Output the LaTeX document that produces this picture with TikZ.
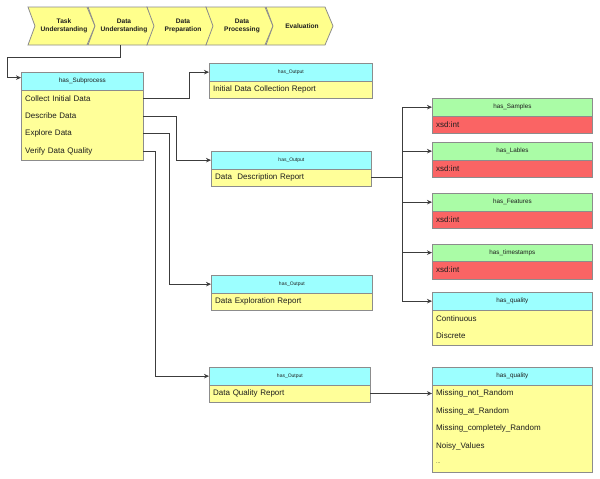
\documentclass[tikz,border=0pt]{standalone}
\usepackage{fontspec}
\setmainfont{Liberation Sans}
\usetikzlibrary{arrows.meta}
\definecolor{cyanc}{HTML}{9CFFFF}
\definecolor{yelc}{HTML}{FFFF99}
\definecolor{chevc}{HTML}{FFFF8C}
\definecolor{grnc}{HTML}{AAFCA6}
\definecolor{redc}{HTML}{FA6464}
\definecolor{bordc}{HTML}{8C8C8C}
\definecolor{linec}{HTML}{3C3C3C}
\definecolor{txtc}{HTML}{1E1E1E}
\tikzset{
  hdr/.style={draw=bordc, line width=0.8pt, minimum height=17.5pt, inner sep=0pt, anchor=north west, font=\fontsize{6.3}{7}\selectfont, text=txtc},
  smallhdr/.style={font=\fontsize{5}{6}\selectfont},
  rowb/.style={minimum height=17.5pt, inner xsep=4pt, inner ysep=0pt, align=left, anchor=north west, font=\fontsize{8}{9}\selectfont, text=txtc},
  frame/.style={draw=bordc, line width=0.8pt},
  chev/.style={draw=bordc, fill=chevc, line width=0.8pt, line join=miter},
  chevtxt/.style={minimum height=38pt, minimum width=40pt, inner sep=0pt, align=center, font=\fontsize{6.6}{7.8}\selectfont\bfseries, text=txtc},
  ln/.style={draw=linec, line width=0.8pt},
  arr/.style={ln, -{Stealth[length=5pt,width=4.5pt]}},
}
\newcommand\mkhdr[7][]{\node[hdr, fill=#7, minimum width=#5pt, #1] (#2) at (#3,#4) {#6};}
\newcommand\mkrow[6]{\pgfmathsetmacro\rtw{#4-8}\node[rowb, fill=#6, text width=\rtw pt] (#1) at (#2,#3) {#5};}
\begin{document}
\begin{tikzpicture}[x=1pt,y=-1pt]
\useasboundingbox[fill=white] (0,0) rectangle (600,479);
% chevrons
\foreach \x/\t/\n in {28/{Task\\Understanding}/c1, 88/{Data\\Understanding}/c2, 147/{Data\\Preparation}/c3, 206/{Data\\Processing}/c4, 266/{Evaluation}/c5}{
  \draw[chev] (\x,7) -- (\x+59,7) -- (\x+67,26) -- (\x+59,45) -- (\x,45) -- (\x+7,26) -- cycle;
  \node[chevtxt] (\n) at (\x+36,26) {\t};
}
% has_Subprocess
\mkhdr{subh}{21}{72}{122}{has\_Subprocess}{cyanc}
\mkrow{sr1}{21}{89.5}{122}{Collect Initial Data}{yelc}
\mkrow{sr2}{21}{107}{122}{Describe Data}{yelc}
\mkrow{sr3}{21}{124.5}{122}{Explore Data}{yelc}
\mkrow{sr4}{21}{142}{122}{Verify Data Quality}{yelc}
\draw[frame] (subh.south west) rectangle (sr4.south east);
% outputs
\mkhdr[smallhdr]{o1h}{209}{63}{163}{has\_Output}{cyanc}
\mkrow{o1r}{209}{80.5}{163}{Initial Data Collection Report}{yelc}
\draw[frame] (o1h.south west) rectangle (o1r.south east);
\mkhdr[smallhdr]{o2h}{211}{151}{160}{has\_Output}{cyanc}
\mkrow{o2r}{211}{168.5}{160}{Data\ \ Description Report}{yelc}
\draw[frame] (o2h.south west) rectangle (o2r.south east);
\mkhdr[smallhdr]{o3h}{211}{275}{161}{has\_Output}{cyanc}
\mkrow{o3r}{211}{292.5}{161}{Data Exploration Report}{yelc}
\draw[frame] (o3h.south west) rectangle (o3r.south east);
\mkhdr[smallhdr]{o4h}{209}{367}{161}{has\_Output}{cyanc}
\mkrow{o4r}{209}{384.5}{161}{Data Quality Report}{yelc}
\draw[frame] (o4h.south west) rectangle (o4r.south east);
% right column
\mkhdr{smh}{432}{98}{160}{has\_Samples}{grnc}
\mkrow{smr}{432}{115.5}{160}{xsd:int}{redc}
\draw[frame] (smh.south west) rectangle (smr.south east);
\mkhdr{lbh}{432}{142}{160}{has\_Lables}{grnc}
\mkrow{lbr}{432}{159.5}{160}{xsd:int}{redc}
\draw[frame] (lbh.south west) rectangle (lbr.south east);
\mkhdr{fth}{432}{193}{160}{has\_Features}{grnc}
\mkrow{ftr}{432}{210.5}{160}{xsd:int}{redc}
\draw[frame] (fth.south west) rectangle (ftr.south east);
\mkhdr{tsh}{432}{243.5}{160}{has\_timestamps}{grnc}
\mkrow{tsr}{432}{261}{160}{xsd:int}{redc}
\draw[frame] (tsh.south west) rectangle (tsr.south east);
\mkhdr{q1h}{432}{292}{160}{has\_quality}{cyanc}
\mkrow{q1a}{432}{309.5}{160}{Continuous}{yelc}
\mkrow{q1b}{432}{327}{160}{Discrete}{yelc}
\draw[frame] (q1h.south west) rectangle (q1b.south east);
\mkhdr{q2h}{432}{367}{160}{has\_quality}{cyanc}
\mkrow{q2a}{432}{384.5}{160}{Missing\_not\_Random}{yelc}
\mkrow{q2b}{432}{402}{160}{Missing\_at\_Random}{yelc}
\mkrow{q2c}{432}{419.5}{160}{Missing\_completely\_Random}{yelc}
\mkrow{q2d}{432}{437}{160}{Noisy\_Values}{yelc}
\mkrow{q2e}{432}{454.5}{160}{\fontsize{5}{6}\selectfont ...}{yelc}
\draw[frame] (q2h.south west) rectangle (q2e.south east);
% junction coordinates
\coordinate (jA) at (7,57);
\coordinate (j1) at (189,0);
\coordinate (j2) at (176,0);
\coordinate (j3) at (169,0);
\coordinate (j4) at (155,0);
\coordinate (jt) at (402,0);
% connectors
\draw[arr] ([xshift=-4pt]c2.south) |- (jA) |- ([yshift=3.5pt]subh.west);
\draw[arr] (sr1.east) -- (sr1.east -| j1) |- (o1h.west);
\draw[arr] (sr2.east) -- (sr2.east -| j2) |- (o2h.west);
\draw[arr] (sr3.east) -- (sr3.east -| j3) |- (o3h.west);
\draw[arr] (sr4.east) -- (sr4.east -| j4) |- (o4h.west);
\foreach \t in {smh, lbh, fth, tsh, q1h}{
  \draw[arr] (o2r.east) -- (o2r.east -| jt) |- (\t.west);
}
\draw[arr] (o4r.east) -- (q2a.west);
\end{tikzpicture}
\end{document}
